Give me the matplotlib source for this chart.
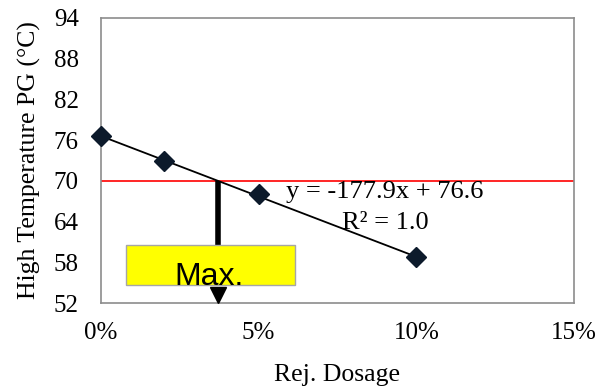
import matplotlib.pyplot as plt
from matplotlib.patches import Rectangle
import numpy as np

# data
dosage = [0.0, 0.02, 0.05, 0.10]
temp_pg = [76.6, 72.9, 68.1, 58.8]
slope = -177.9
intercept = 76.6
limit_temp = 70
y_ticks = [52, 58, 64, 70, 76, 82, 88, 94]
x_ticks = [0.0, 0.05, 0.10, 0.15]
x_tick_labels = ['0%', '5%', '10%', '15%']

plt.rcParams['font.family'] = 'Liberation Serif'

fig = plt.figure(figsize=(5.99, 3.87), dpi=100)
ax = fig.add_axes([101/599, 1 - 303/387, 473/599, 285/387])

# trendline
xt = np.array([0.0, 0.10])
ax.plot(xt, slope * xt + intercept, color='black', lw=1.3, zorder=3)
ax.plot(dosage, temp_pg, linestyle='none', marker='D', ms=10,
        color='#0c1a2b', zorder=4, clip_on=False)

# red limit line
ax.axhline(limit_temp, color='#ff0000', lw=1.2, zorder=2)

# max dosage marker
x_max = (limit_temp - intercept) / slope
ax.plot([x_max, x_max], [limit_temp, 60.6], color='black', lw=4,
        solid_capstyle='butt', zorder=3)
ax.add_patch(Rectangle((0.0078, 54.7), 0.0538, 5.9, facecolor='#ffff00',
                       edgecolor='#a6a6a6', lw=1, zorder=5))
ax.text(x_max - 0.003, 54.65, 'Max.', family='Liberation Sans', fontsize=23,
        ha='center', va='baseline', zorder=6)
ax.plot([x_max], [53.2], marker='v', ms=11, color='black', zorder=7)

ax.text(0.0901, 67.47, 'y = -177.9x + 76.6', ha='center', va='baseline',
        fontsize=19, zorder=6)
ax.text(0.0901, 62.9, 'R² = 1.0', ha='center', va='baseline',
        fontsize=19, zorder=6)

ax.set_xlim(0, 0.15)
ax.set_ylim(52, 94)
ax.set_xticks(x_ticks)
ax.set_xticklabels(x_tick_labels)
ax.set_yticks(y_ticks)
ax.tick_params(length=0, labelsize=18)
ax.tick_params(axis='x', pad=14)
ax.tick_params(axis='y', pad=16)
for s in ax.spines.values():
    s.set_color('#8c8c8c')
    s.set_linewidth(1.2)

ax.set_xlabel('Rej. Dosage', fontsize=18.5, labelpad=14)
ax.set_ylabel('High Temperature PG (°C)', fontsize=18.5, labelpad=9)

fig.savefig('out.png', dpi=100)
